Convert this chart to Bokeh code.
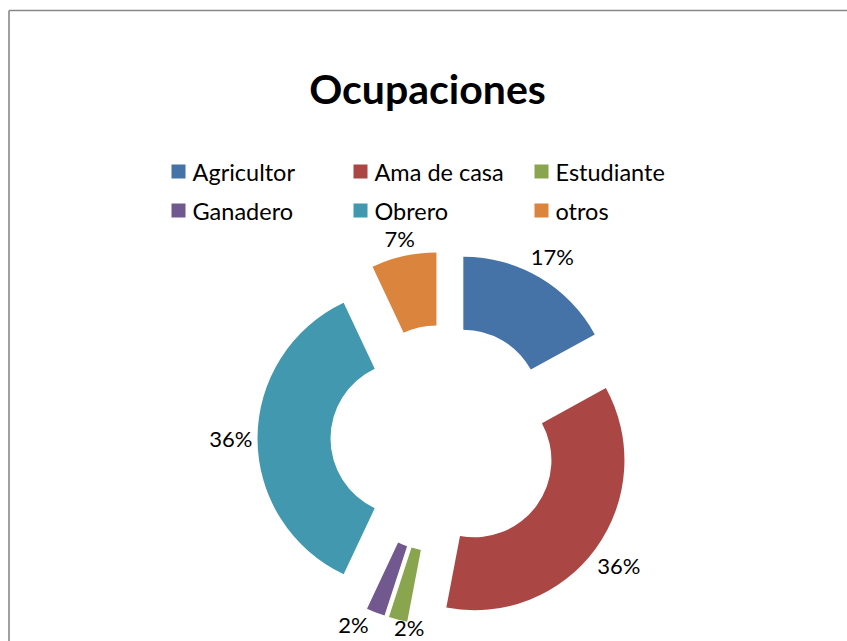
import math
from bokeh.plotting import figure
from bokeh.models import Range1d
from bokeh.core.properties import value
from bokeh.embed import file_html
from bokeh.resources import INLINE

# ---- data ----
categories = ["Agricultor", "Ama de casa", "Estudiante", "Ganadero", "Obrero", "otros"]
percentages = [17, 36, 2, 2, 36, 7]
labels = ["17%", "36%", "2%", "2%", "36%", "7%"]
colors = ["#4572A7", "#AA4643", "#89A54E", "#71588F", "#4198AF", "#DB843D"]
title_text = "Ocupaciones"

# ---- layout (pixel-like data units, y up) ----
W, H = 847, 641
CX, CY = 444, 203
R_OUT, R_IN = 150, 77
EXPLODE = 37
LABEL_GAP = 5
LABEL_FS = 22
MIN_SEP_DEG = 18.0
FONT = "Lato"

p = figure(width=W, height=H, output_backend="svg", toolbar_location=None,
           x_range=Range1d(0, W), y_range=Range1d(0, H), min_border=0,
           tools="")
p.axis.visible = False
p.grid.visible = False
p.outline_line_color = None
p.background_fill_color = "white"
p.border_fill_color = "white"

# chart border (top and left edges)
p.segment(x0=[8.5, 8.5], y0=[H - 10, 0], x1=[W, 8.5], y1=[H - 10, H - 10],
          line_color="#888888", line_width=1.6)

total = float(sum(percentages))
xs, ys, starts, ends, mids = [], [], [], [], []
cum = 0.0
for v in percentages:
    a0 = cum / total * 360.0
    a1 = (cum + v) / total * 360.0
    mid = (a0 + a1) / 2.0
    mids.append(mid)
    m = math.radians(mid)
    xs.append(CX + EXPLODE * math.sin(m))
    ys.append(CY + EXPLODE * math.cos(m))
    starts.append(math.radians(90 - a1))
    ends.append(math.radians(90 - a0))
    cum += v

# spread label angles of neighbouring slices that are too close together
lab_ang = list(mids)
for i in range(len(lab_ang) - 1):
    d = lab_ang[i + 1] - lab_ang[i]
    if d < MIN_SEP_DEG:
        push = (MIN_SEP_DEG - d) / 2.0
        lab_ang[i] -= push
        lab_ang[i + 1] += push

lx, ly = [], []
for i, t in enumerate(labels):
    a = math.radians(lab_ang[i])
    hw = 0.33 * LABEL_FS * len(t)
    hh = 0.46 * LABEL_FS
    ext = hw * abs(math.sin(a)) + hh * abs(math.cos(a))
    r = R_OUT + LABEL_GAP + ext
    x = xs[i] + r * math.sin(a)
    y = ys[i] + r * math.cos(a)
    y = max(y, hh + 4)
    lx.append(x)
    ly.append(y)

p.annular_wedge(x=xs, y=ys, inner_radius=R_IN, outer_radius=R_OUT,
                start_angle=starts, end_angle=ends, direction="anticlock",
                fill_color=colors, line_color=None)

p.text(x=lx, y=ly, text=labels, text_font=value(FONT),
       text_font_size=f"{LABEL_FS}px",
       text_align="center", text_baseline="middle", text_color="black")

# title
p.text(x=[427], y=[H - 88], text=[title_text], text_font=value(FONT),
       text_font_size="41px", text_font_style="bold", text_align="center",
       text_baseline="middle", text_color="black")

# legend (2 rows x 3 columns)
col_x = [171, 353, 534]
row_y = [H - 171, H - 210]
sq_x, sq_y, tx, ty = [], [], [], []
for i, c in enumerate(categories):
    r, k = divmod(i, 3)
    sq_x.append(col_x[k] + 7)
    sq_y.append(row_y[r])
    tx.append(col_x[k] + 21)
    ty.append(row_y[r])
p.scatter(x=sq_x, y=sq_y, marker="square", size=14, fill_color=colors,
          line_color=None)
p.text(x=tx, y=ty, text=categories, text_font=value(FONT), text_font_size="23.5px",
       text_align="left", text_baseline="middle", text_color="black")

open("out.html", "w").write(file_html(p, INLINE))
